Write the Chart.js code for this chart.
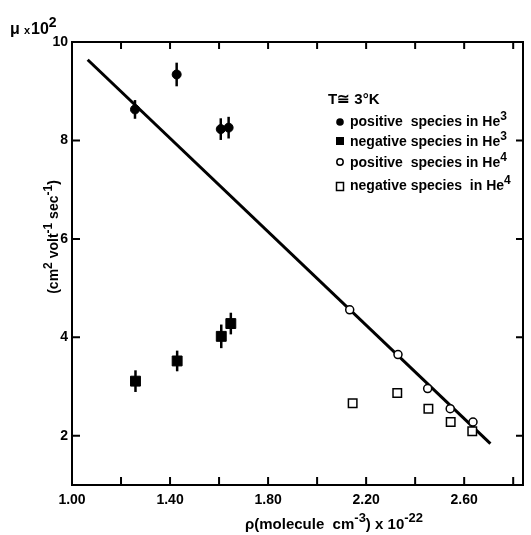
<!DOCTYPE html>
<html>
<head>
<meta charset="utf-8">
<script src="https://cdn.jsdelivr.net/npm/chart.js@4"></script>
<style>
  body { margin: 0; background: #fff; }
  canvas { display: block; }
</style>
</head>
<body>
<canvas id="c" width="531" height="535"></canvas>
<script>
// データ
const posHe3X = [1.257, 1.427, 1.607, 1.639];
const posHe3Y = [8.63, 9.34, 8.23, 8.26];
const posHe3Err = [0.19, 0.24, 0.22, 0.22];

const negHe3X = [1.259, 1.429, 1.609, 1.648];
const negHe3Y = [3.11, 3.52, 4.02, 4.28];
const negHe3Err = [0.22, 0.21, 0.24, 0.22];

const posHe4X = [2.133, 2.33, 2.451, 2.543, 2.636];
const posHe4Y = [4.56, 3.65, 2.96, 2.55, 2.28];

const negHe4X = [2.145, 2.327, 2.454, 2.545, 2.633];
const negHe4Y = [2.66, 2.87, 2.55, 2.28, 2.09];

const fitX = [1.064, 2.707];
const fitY = [9.64, 1.84];

const xTickValues = [1.0, 1.4, 1.8, 2.2, 2.6];
const xTickLabels = ['1.00', '1.40', '1.80', '2.20', '2.60'];
const xMinorTicks = [1.2, 1.4, 1.6, 1.8, 2.0, 2.2, 2.4, 2.6, 2.8];
const yTickValues = [2, 4, 6, 8, 10];
const yTickLabels = ['2', '4', '6', '8', '10'];

const FONT = '"Liberation Sans", Arial, sans-serif';

function pts(xs, ys) {
  return xs.map((x, i) => ({ x: x, y: ys[i] }));
}

// 上付き文字つきのテキストを描く
function drawRich(ctx, parts, x, y, size) {
  parts.forEach(p => {
    const sup = Array.isArray(p);
    const t = sup ? p[0] : p;
    const s = sup ? size - 2 : size;
    ctx.font = 'bold ' + s + 'px ' + FONT;
    ctx.fillText(t, x, sup ? y - size * 0.45 : y);
    x += ctx.measureText(t).width;
  });
  return x;
}

function richWidth(ctx, parts, size) {
  let w = 0;
  parts.forEach(p => {
    const sup = Array.isArray(p);
    const t = sup ? p[0] : p;
    ctx.font = 'bold ' + (sup ? size - 2 : size) + 'px ' + FONT;
    w += ctx.measureText(t).width;
  });
  return w;
}

const paper = {
  id: 'paper',
  afterDatasetsDraw(chart) {
    const { ctx, scales: { x, y } } = chart;
    ctx.save();
    ctx.strokeStyle = '#000';
    ctx.lineWidth = 2.5;
    chart.data.datasets.forEach(ds => {
      if (!ds.errors) return;
      ds.data.forEach((p, i) => {
        const px = x.getPixelForValue(p.x);
        ctx.beginPath();
        ctx.moveTo(px, y.getPixelForValue(p.y + ds.errors[i]));
        ctx.lineTo(px, y.getPixelForValue(p.y - ds.errors[i]));
        ctx.stroke();
      });
    });
    ctx.restore();
  },
  afterDraw(chart) {
    const { ctx, chartArea: a, scales: { x, y } } = chart;
    ctx.save();
    ctx.strokeStyle = '#000';
    ctx.fillStyle = '#000';

    // 枠
    ctx.lineWidth = 2;
    ctx.strokeRect(a.left, a.top, a.right - a.left, a.bottom - a.top);

    // 内向きの目盛り
    ctx.beginPath();
    xMinorTicks.forEach(v => {
      const px = x.getPixelForValue(v);
      ctx.moveTo(px, a.bottom); ctx.lineTo(px, a.bottom - 8);
      ctx.moveTo(px, a.top); ctx.lineTo(px, a.top + 7);
    });
    yTickValues.forEach(v => {
      if (v >= 10) return;
      const py = y.getPixelForValue(v);
      ctx.moveTo(a.left, py); ctx.lineTo(a.left + 8, py);
      ctx.moveTo(a.right, py); ctx.lineTo(a.right - 7, py);
    });
    ctx.stroke();

    // 軸タイトル
    ctx.textAlign = 'left';
    ctx.textBaseline = 'alphabetic';
    ctx.font = 'bold 16px ' + FONT;
    ctx.fillText('μ', 10, 34);
    ctx.font = 'bold 11px ' + FONT;
    ctx.fillText('x', 24, 34);
    drawRich(ctx, ['10', ['2']], 31, 34, 16);

    const yTitle = ['(cm', ['2'], ' volt', ['-1'], ' sec', ['-1'], ')'];
    ctx.save();
    ctx.translate(58, 237);
    ctx.rotate(-Math.PI / 2);
    drawRich(ctx, yTitle, -richWidth(ctx, yTitle, 14) / 2, 0, 14);
    ctx.restore();

    const xTitle = ['ρ(molecule  cm', ['-3'], ') x 10', ['-22']];
    drawRich(ctx, xTitle, 334 - richWidth(ctx, xTitle, 15) / 2, 529, 15);

    // 凡例
    ctx.font = 'bold 15px ' + FONT;
    ctx.fillText('T≅ 3°K', 328, 104);
    const rows = [
      { y: 126, text: ['positive  species in He', ['3']] },
      { y: 146, text: ['negative species in He', ['3']] },
      { y: 167, text: ['positive  species in He', ['4']] },
      { y: 190, text: ['negative species  in He', ['4']] }
    ];
    rows.forEach(r => drawRich(ctx, r.text, 350, r.y, 14));

    ctx.lineWidth = 1.5;
    ctx.beginPath(); ctx.arc(340, 122, 3.8, 0, Math.PI * 2); ctx.fill();
    ctx.fillRect(336, 137, 8, 8);
    ctx.beginPath(); ctx.arc(340, 162, 3.2, 0, Math.PI * 2); ctx.stroke();
    ctx.strokeRect(336.5, 182.5, 7, 8);
    ctx.restore();
  }
};

new Chart(document.getElementById('c').getContext('2d'), {
  type: 'scatter',
  data: {
    datasets: [
      {
        label: 'positive species in He3',
        data: pts(posHe3X, posHe3Y),
        errors: posHe3Err,
        pointStyle: 'circle',
        pointRadius: 4.5,
        backgroundColor: '#000',
        borderColor: '#000'
      },
      {
        label: 'negative species in He3',
        data: pts(negHe3X, negHe3Y),
        errors: negHe3Err,
        pointStyle: 'rect',
        pointRadius: 7,
        backgroundColor: '#000',
        borderColor: '#000'
      },
      {
        label: 'positive species in He4',
        data: pts(posHe4X, posHe4Y),
        pointStyle: 'circle',
        pointRadius: 4,
        borderWidth: 1.5,
        backgroundColor: '#fff',
        borderColor: '#000'
      },
      {
        label: 'negative species in He4',
        data: pts(negHe4X, negHe4Y),
        pointStyle: 'rect',
        pointRadius: 6,
        borderWidth: 1.5,
        backgroundColor: '#fff',
        borderColor: '#000'
      },
      {
        type: 'line',
        label: 'fit',
        data: pts(fitX, fitY),
        showLine: true,
        pointRadius: 0,
        borderWidth: 3,
        borderColor: '#000',
        fill: false,
        tension: 0
      }
    ]
  },
  options: {
    responsive: false,
    animation: false,
    layout: { padding: { left: 0, right: 3, top: 42, bottom: 0 } },
    plugins: { legend: { display: false }, tooltip: { enabled: false } },
    scales: {
      x: {
        type: 'linear',
        min: 1.0,
        max: 2.84,
        grid: { display: false, drawTicks: false },
        border: { display: false },
        afterBuildTicks: s => { s.ticks = xTickValues.map(v => ({ value: v })); },
        afterFit: s => { s.height = 50; },
        ticks: {
          callback: (v, i) => xTickLabels[i],
          color: '#000',
          font: { family: FONT, size: 14, weight: 'bold' },
          padding: 7,
          maxRotation: 0,
          autoSkip: false
        }
      },
      y: {
        type: 'linear',
        min: 1,
        max: 10,
        grid: { display: false, drawTicks: false },
        border: { display: false },
        afterBuildTicks: s => { s.ticks = yTickValues.map(v => ({ value: v })); },
        afterFit: s => { s.width = 72; },
        ticks: {
          callback: (v, i) => yTickLabels[i],
          color: '#000',
          font: { family: FONT, size: 14, weight: 'bold' },
          padding: 4,
          autoSkip: false
        }
      }
    }
  },
  plugins: [paper]
});
</script>
</body>
</html>
